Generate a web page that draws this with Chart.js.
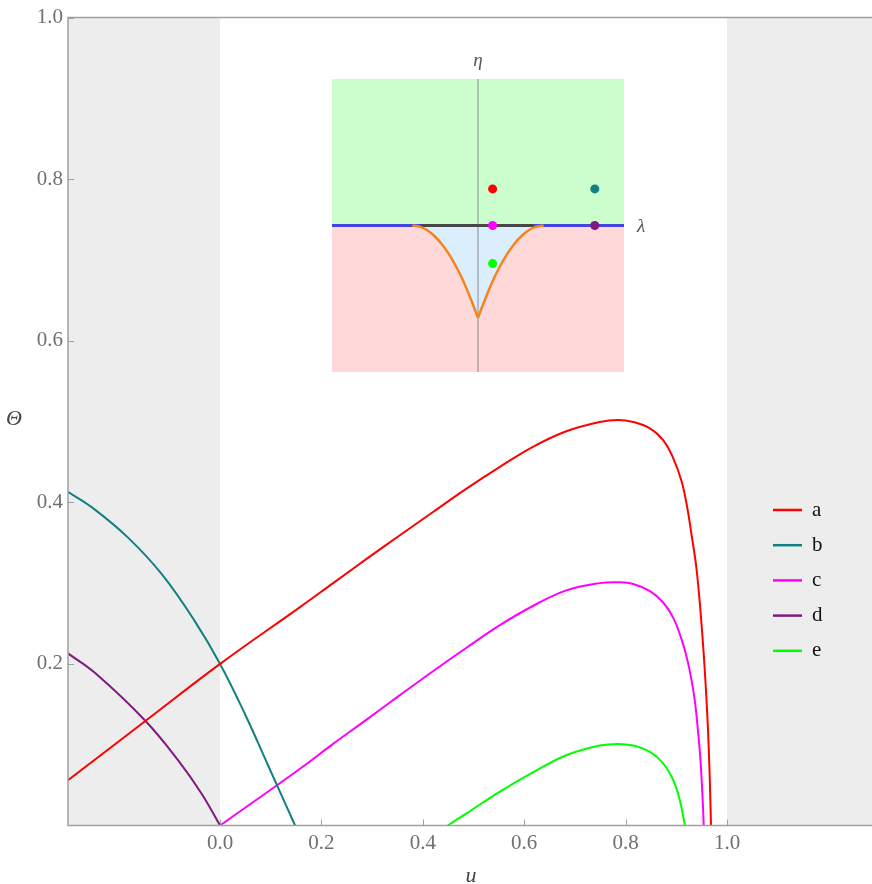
<!DOCTYPE html>
<html lang="en">
<head>
    <meta charset="UTF-8">
    <title>Theta vs u</title>
    <script src="https://cdn.jsdelivr.net/npm/chart.js@4.4.1/dist/chart.umd.min.js"></script>
    <style>
        body { margin: 0; background: #fff; }
        #wrap { position: relative; width: 872px; height: 884px; }
        #main { position: absolute; left: 0; top: 0; }
        #inset { position: absolute; left: 320px; top: 40px; }
    </style>
</head>
<body>
<div id="wrap">
    <canvas id="main" width="872" height="884"></canvas>
    <canvas id="inset" width="340" height="345"></canvas>
</div>
<script>
// curves (u, Theta)
const U_A = [-0.3, -0.148, 0, 0.157, 0.223, 0.289, 0.354, 0.42, 0.486, 0.552, 0.618, 0.683, 0.749, 0.785, 0.815, 0.848, 0.874, 0.894, 0.9105, 0.9217, 0.930, 0.9388, 0.9454, 0.9507, 0.9553, 0.9592, 0.9625, 0.965, 0.967, 0.9684];
const TH_A = [0.056, 0.129, 0.2, 0.270, 0.300, 0.330, 0.359, 0.388, 0.417, 0.444, 0.469, 0.488, 0.4995, 0.502, 0.4995, 0.4915, 0.477, 0.4545, 0.4258, 0.393, 0.360, 0.323, 0.282, 0.241, 0.200, 0.159, 0.118, 0.077, 0.035, 0];
const U_B = [-0.3, -0.247, -0.181, -0.115, -0.05, 0, 0.049, 0.095, 0.148];
const TH_B = [0.413, 0.391, 0.356, 0.311, 0.253, 0.2, 0.138, 0.074, 0];
const U_C = [0, 0.157, 0.223, 0.289, 0.354, 0.42, 0.486, 0.552, 0.618, 0.683, 0.749, 0.785, 0.815, 0.848, 0.874, 0.894, 0.9105, 0.9217, 0.930, 0.9368, 0.942, 0.9467, 0.950, 0.9526, 0.954];
const TH_C = [0, 0.070, 0.101, 0.131, 0.161, 0.191, 0.220, 0.248, 0.272, 0.291, 0.300, 0.301, 0.299, 0.290, 0.276, 0.257, 0.230, 0.205, 0.180, 0.153, 0.122, 0.089, 0.056, 0.023, 0];
const U_D = [-0.3, -0.247, -0.148, -0.083, -0.037, 0];
const TH_D = [0.213, 0.189, 0.130, 0.081, 0.040, 0];
const U_E = [0.449, 0.486, 0.552, 0.618, 0.683, 0.749, 0.785, 0.815, 0.848, 0.874, 0.894, 0.907, 0.917];
const TH_E = [0, 0.015, 0.042, 0.066, 0.087, 0.099, 0.101, 0.099, 0.091, 0.077, 0.056, 0.031, 0];

const SERIES_NAMES = ['a', 'b', 'c', 'd', 'e'];
const SERIES_COLORS = ['#ff0000', '#138080', '#ff00ff', '#7f1a80', '#00ff00'];

const X_TICKS = [0, 0.2, 0.4, 0.6, 0.8, 1.0];
const Y_TICKS = [0.2, 0.4, 0.6, 0.8, 1.0];

// inset (lambda, eta)
const CUSP_L_LEFT = [-0.45, -0.40, -0.35, -0.30, -0.25, -0.20, -0.15, -0.10, -0.05, 0];
const CUSP_E_LEFT = [0, -0.008, -0.031, -0.07, -0.124, -0.194, -0.28, -0.38, -0.50, -0.63];
const CUSP_L_RIGHT = [0, 0.05, 0.10, 0.15, 0.20, 0.25, 0.30, 0.35, 0.40, 0.45];
const CUSP_E_RIGHT = [-0.63, -0.50, -0.38, -0.28, -0.194, -0.124, -0.07, -0.031, -0.008, 0];
const SEGMENT_L = [-0.39, 0.38];
const DOT_L = [0.1, 0.8, 0.1, 0.8, 0.1];
const DOT_E = [0.25, 0.25, 0, 0, -0.26];

const pts = (xs, ys) => xs.map((x, i) => ({x: x, y: ys[i]}));
const serif = '"Liberation Serif", "DejaVu Serif", serif';

const mainSeries = [[U_A, TH_A], [U_B, TH_B], [U_C, TH_C], [U_D, TH_D], [U_E, TH_E]];

const decor = {
    id: 'decor',
    beforeDatasetsDraw(chart) {
        const {ctx, chartArea: a, scales: {x}} = chart;
        const x0 = x.getPixelForValue(0), x1 = x.getPixelForValue(1);
        ctx.save();
        ctx.fillStyle = '#ededed';
        ctx.fillRect(a.left, a.top, x0 - a.left, a.bottom - a.top);
        ctx.fillRect(x1, a.top, a.right - x1, a.bottom - a.top);
        ctx.restore();
    },
    afterDraw(chart) {
        const {ctx, chartArea: a, scales: {x, y}} = chart;
        ctx.save();
        // frame
        ctx.strokeStyle = '#a0a0a0';
        ctx.lineWidth = 1.5;
        ctx.beginPath();
        ctx.moveTo(a.right, a.top);
        ctx.lineTo(a.left, a.top);
        ctx.lineTo(a.left, a.bottom);
        ctx.lineTo(a.right, a.bottom);
        ctx.stroke();
        // inward ticks
        ctx.lineWidth = 1;
        ctx.beginPath();
        X_TICKS.forEach(v => {
            const px = Math.round(x.getPixelForValue(v)) + 0.5;
            ctx.moveTo(px, a.bottom);
            ctx.lineTo(px, a.bottom - 6);
        });
        Y_TICKS.forEach(v => {
            const py = Math.round(y.getPixelForValue(v)) + 0.5;
            ctx.moveTo(a.left, py);
            ctx.lineTo(a.left + 6, py);
        });
        ctx.stroke();
        // axis titles
        ctx.fillStyle = '#444';
        ctx.font = 'italic 22px ' + serif;
        ctx.textAlign = 'center';
        ctx.textBaseline = 'middle';
        ctx.fillText('u', 471, 876);
        ctx.fillText('\u0398', 14, 419);
        // legend
        ctx.font = '21px ' + serif;
        ctx.textAlign = 'left';
        chart.data.datasets.forEach((ds, i) => {
            const ly = 510 + i * 35.2;
            ctx.strokeStyle = ds.borderColor;
            ctx.lineWidth = 2.5;
            ctx.beginPath();
            ctx.moveTo(773, ly);
            ctx.lineTo(802, ly);
            ctx.stroke();
            ctx.fillStyle = '#111';
            ctx.fillText(ds.label, 812, ly);
        });
        ctx.restore();
    }
};

new Chart(document.getElementById('main'), {
    type: 'line',
    data: {
        datasets: mainSeries.map((s, i) => ({
            label: SERIES_NAMES[i],
            data: pts(s[0], s[1]),
            borderColor: SERIES_COLORS[i],
            borderWidth: 2,
            pointRadius: 0,
            tension: 0.4,
            fill: false
        }))
    },
    options: {
        responsive: false,
        animation: false,
        devicePixelRatio: 1,
        layout: {padding: {top: 14, left: 0, right: 0, bottom: 0}},
        plugins: {legend: {display: false}, tooltip: {enabled: false}},
        scales: {
            x: {
                type: 'linear',
                min: -0.3,
                max: 1.286,
                grid: {display: false, drawTicks: false},
                border: {display: false},
                afterBuildTicks: s => { s.ticks = X_TICKS.map(v => ({value: v})); },
                afterFit: s => { s.height = 58.5; },
                ticks: {
                    padding: 5,
                    color: '#707070',
                    font: {family: serif, size: 21},
                    maxRotation: 0,
                    callback: v => v.toFixed(1)
                }
            },
            y: {
                type: 'linear',
                min: 0,
                max: 1,
                grid: {display: false, drawTicks: false},
                border: {display: false},
                afterBuildTicks: s => { s.ticks = Y_TICKS.map(v => ({value: v})); },
                afterFit: s => { s.width = 68; },
                ticks: {
                    padding: 5,
                    color: '#707070',
                    font: {family: serif, size: 21},
                    callback: v => v.toFixed(1)
                }
            }
        }
    },
    plugins: [decor]
});

// inset diagram
const insetLabels = {
    id: 'insetLabels',
    afterDraw(chart) {
        const ctx = chart.ctx;
        ctx.save();
        ctx.fillStyle = '#555';
        ctx.font = 'italic 19px ' + serif;
        ctx.textAlign = 'center';
        ctx.textBaseline = 'middle';
        ctx.fillText('\u03B7', 158, 21);
        ctx.fillText('\u03BB', 321, 187);
        ctx.restore();
    }
};

const flat = {pointRadius: 0, borderWidth: 0, tension: 0};
new Chart(document.getElementById('inset'), {
    type: 'line',
    data: {
        datasets: [
            {data: pts(DOT_L, DOT_E), type: 'scatter', showLine: false, pointRadius: 4.5, pointBorderWidth: 0,
             pointBackgroundColor: SERIES_COLORS, order: 0},
            {data: pts(CUSP_L_LEFT, CUSP_E_LEFT), borderColor: '#f5841f', borderWidth: 2.5, pointRadius: 0,
             cubicInterpolationMode: 'monotone', fill: false, order: 1},
            {data: pts(CUSP_L_RIGHT, CUSP_E_RIGHT), borderColor: '#f5841f', borderWidth: 2.5, pointRadius: 0,
             cubicInterpolationMode: 'monotone', fill: false, order: 1},
            {data: pts(SEGMENT_L, [0, 0]), borderColor: '#474747', borderWidth: 3, pointRadius: 0, fill: false, order: 2},
            {data: pts([-1, 1], [0, 0]), borderColor: '#4444e0', borderWidth: 3, pointRadius: 0, fill: false, order: 3},
            {data: pts([0, 0], [-1, 1]), borderColor: '#8a8a8a', borderWidth: 1, pointRadius: 0, fill: false, order: 4},
            Object.assign({data: pts(CUSP_L_LEFT, CUSP_E_LEFT), cubicInterpolationMode: 'monotone',
             fill: 'origin', backgroundColor: '#dbeefe', order: 5}, flat, {tension: 0.4}),
            Object.assign({data: pts(CUSP_L_RIGHT, CUSP_E_RIGHT), cubicInterpolationMode: 'monotone',
             fill: 'origin', backgroundColor: '#dbeefe', order: 5}, flat, {tension: 0.4}),
            Object.assign({data: pts([-1, 1], [1, 1]), fill: 'origin', backgroundColor: '#ccfdcc', order: 6}, flat),
            Object.assign({data: pts([-1, 1], [-1, -1]), fill: 'origin', backgroundColor: '#ffd9d9', order: 6}, flat)
        ]
    },
    options: {
        responsive: false,
        animation: false,
        devicePixelRatio: 1,
        layout: {padding: {left: 12, top: 39, right: 36, bottom: 13}},
        plugins: {legend: {display: false}, tooltip: {enabled: false}},
        scales: {
            x: {type: 'linear', min: -1, max: 1, display: false},
            y: {type: 'linear', min: -1, max: 1, display: false}
        }
    },
    plugins: [insetLabels]
});
</script>
</body>
</html>
